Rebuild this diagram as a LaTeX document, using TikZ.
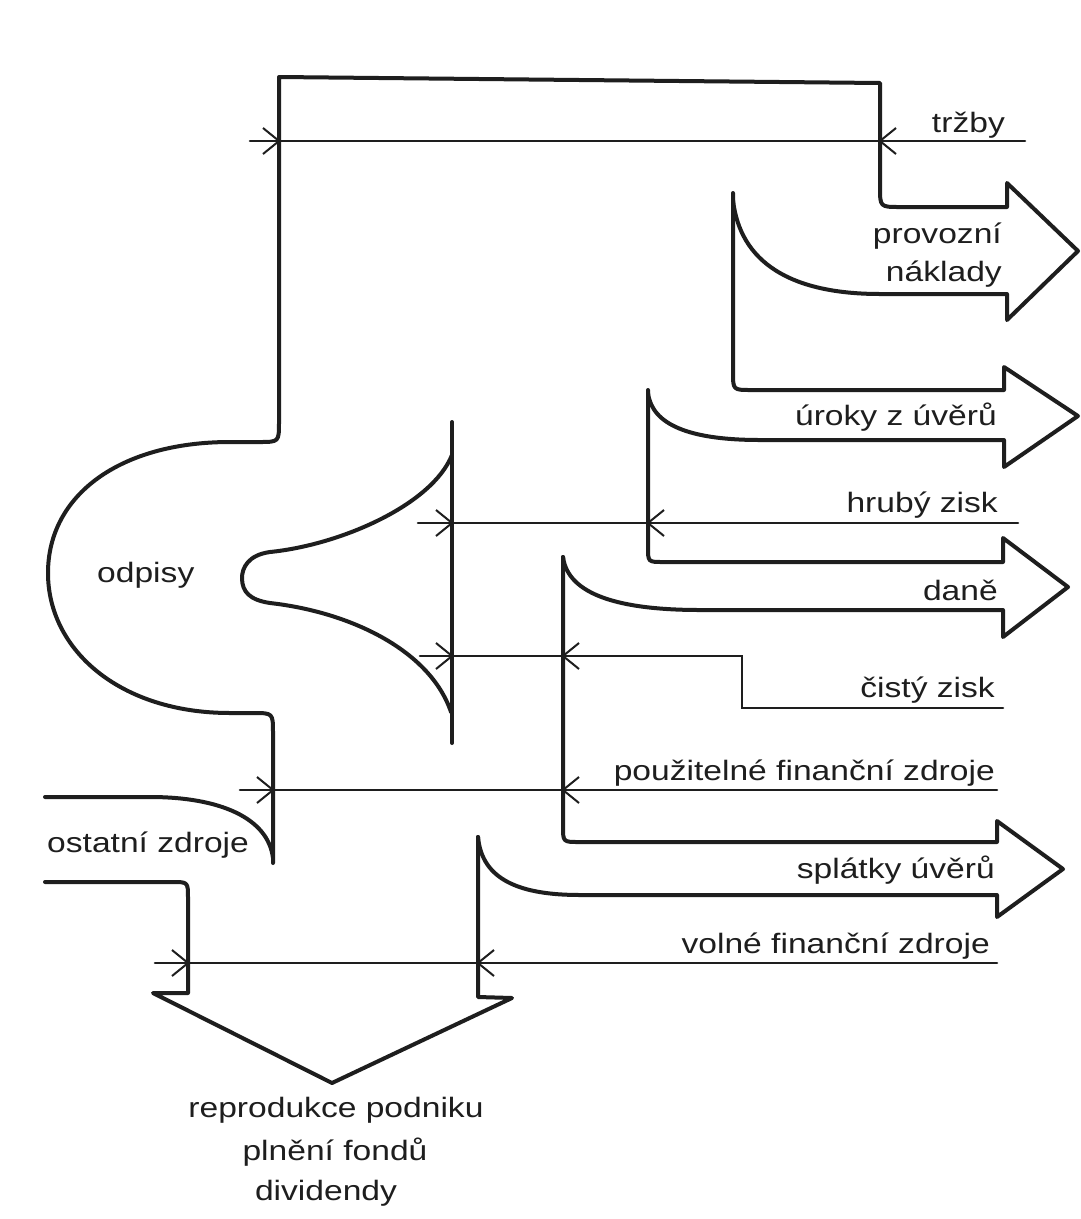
\documentclass[tikz,border=0pt]{standalone}
\usepackage{fontspec}
\newfontfamily\labfont[FakeStretch=1.2]{Liberation Sans}
\definecolor{ink}{HTML}{1E1E1E}
\tikzset{
  tipL/.pic={\draw[line width=2pt,draw=ink] (16,-13) -- (0,0) -- (16,13);},
  tipR/.pic={\draw[line width=2pt,draw=ink] (-16,-13) -- (0,0) -- (-16,13);}
}
\begin{document}
\begin{tikzpicture}[x=1pt,y=-1pt,
  outline/.style={line width=4pt, draw=ink, line join=round, line cap=round},
  flow/.style={line width=2.6pt, draw=ink, line cap=round},
  lab/.style={font=\labfont\fontsize{28}{34}\selectfont, text=ink, inner sep=0pt}]
\useasboundingbox (0,0) rectangle (1081,1219);
\fill[white] (0,0) rectangle (1081,1219);

% outer frame: provozni naklady arrow, top box, odpisy bulge
\draw[outline] (733,200) .. controls (740,262) and (790,294) .. (880,294) -- (1007,294)
  -- (1007,320) -- (1078,251) -- (1007,183) -- (1007,207) -- (900,207)
  .. controls (880,207) .. (880,187) -- (880,83) -- (279,77) -- (279,422)
  .. controls (279,442) .. (259,442) -- (230,442)
  .. controls (120,442) and (48,495) .. (48,573)
  .. controls (48,650) and (120,713) .. (230,713) -- (253,713)
  .. controls (273,713) .. (273,733) -- (273,863);

% uroky z uveru
\draw[outline] (733,193) -- (733,372) .. controls (733,390) .. (751,390) -- (1004,390)
  -- (1004,367) -- (1078,416) -- (1004,467) -- (1004,440) -- (760,440)
  .. controls (690,440) and (652,425) .. (648,393);

% dane
\draw[outline] (648,390) -- (648,547) .. controls (648,562) .. (663,562) -- (1003,562)
  -- (1003,538) -- (1068,587) -- (1003,637) -- (1003,610) -- (700,610)
  .. controls (620,610) and (568,595) .. (563,557);

% splatky uveru
\draw[outline] (563,557) -- (563,826) .. controls (563,842) .. (579,842) -- (997,842)
  -- (997,821) -- (1063,869) -- (997,917) -- (997,895) -- (580,895)
  .. controls (520,895) and (482,880) .. (478,837);

% downward arrow
\draw[outline] (478,837) -- (478,997) -- (512,998) -- (332,1083) -- (153,993)
  -- (188,993) -- (188,898) .. controls (188,882) .. (172,882) -- (45,882);

% ostatni zdroje upper edge
\draw[outline] (45,797) -- (150,797) .. controls (220,797) and (268,818) .. (273,858);

% odpisy funnel
\draw[outline] (452,422) -- (452,743);
\draw[outline] (452,455) .. controls (432,505) and (340,545) .. (270,552)
  .. controls (248,555) and (242,568) .. (242,578)
  .. controls (242,592) and (250,600) .. (270,603)
  .. controls (350,612) and (430,650) .. (451,712);

% flow lines
\coordinate (trzR) at (1025,141); \coordinate (trzL) at (250,141);
\draw[flow] (trzR) -- (trzL);
\coordinate (hrR) at (1018,523); \coordinate (hrL) at (418,523);
\draw[flow] (hrR) -- (hrL);
\coordinate (ciR) at (1003,708); \coordinate (ciL) at (420,656);
\draw[flow] (ciR) -- (742,708) -- (742,656) -- (ciL);
\coordinate (poR) at (997,790); \coordinate (poL) at (240,790);
\draw[flow] (poR) -- (poL);
\coordinate (voR) at (997,963); \coordinate (voL) at (155,963);
\draw[flow] (voR) -- (voL);

% markers
\pic at (880,141) {tipL}; \pic at (279,141) {tipR};
\pic at (648,523) {tipL}; \pic at (452,523) {tipR};
\pic at (563,656) {tipL}; \pic at (452,656) {tipR};
\pic at (563,790) {tipL}; \pic at (273,790) {tipR};
\pic at (478,963) {tipL}; \pic at (188,963) {tipR};

% labels
\node[lab, anchor=base east] (trzby) at (1005,132) {tržby};
\node[lab, anchor=base east] (prov1) at (1002,243) {provozní};
\node[lab, anchor=base east] (prov2) at (1002,281) {náklady};
\node[lab, anchor=base east] (uroky) at (997,425) {úroky z úvěrů};
\node[lab, anchor=base east] (hruby) at (998,512) {hrubý zisk};
\node[lab, anchor=base east] (dane) at (998,600) {daně};
\node[lab, anchor=base east] (cisty) at (995,697) {čistý zisk};
\node[lab, anchor=base east] (pouz) at (995,780) {použitelné finanční zdroje};
\node[lab, anchor=base east] (splat) at (995,878) {splátky úvěrů};
\node[lab, anchor=base east] (volne) at (990,953) {volné finanční zdroje};
\node[lab, anchor=base west] (ost) at (47,852) {ostatní zdroje};
\node[lab, anchor=base west] (odp) at (97,582) {odpisy};
\node[lab, anchor=base] (rep1) at (336,1117) {reprodukce podniku};
\node[lab, anchor=base] (rep2) at (335,1160) {plnění fondů};
\node[lab, anchor=base] (rep3) at (326,1200) {dividendy};
\end{tikzpicture}
\end{document}
